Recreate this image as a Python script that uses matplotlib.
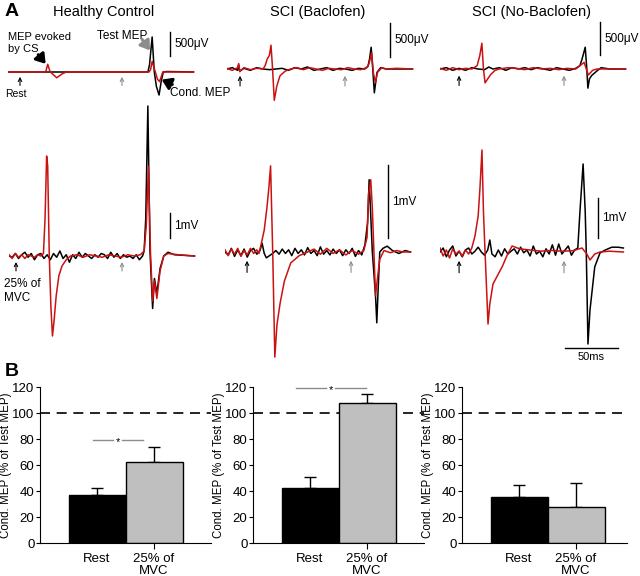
import matplotlib
matplotlib.use("Agg")
import matplotlib.pyplot as plt

plt.rcParams["font.family"] = ["Liberation Sans", "DejaVu Sans"]

W, H = 640.0, 576.0
PX_MS = 1.06  # pixels per ms in panel A
BLACK = "black"
RED = "#cc1111"
GRAY = "#8c8c8c"

# ---- panel A: EMG traces (time in ms, amplitude in mV) ----
# Healthy control, rest
hc_rest_black_t = [0, 132, 133.5, 136, 138, 140, 142.5, 144.5, 146.5, 150, 175]
hc_rest_black_v = [0, 0, 0.15, 0.73, 0, -0.3, -0.48, -0.2, 0, 0.01, 0]
hc_rest_red_t = [0, 35.5, 37.5, 39.5, 41, 46, 51, 55, 133, 134.5, 136, 139, 141, 143, 146, 175]
hc_rest_red_v = [0, 0, 0.16, 0.02, -0.02, -0.12, -0.04, 0, 0, 0.05, 0.22, 0, -0.15, -0.2, 0, 0]

# Healthy control, 25% MVC
hc_mvc_black_t = [0, 3, 6, 9, 12, 15, 18, 21, 24, 27, 30, 33, 36, 39, 42, 45, 48, 51, 54, 57, 60,
                  63, 66, 69, 72, 75, 78, 81, 84, 87, 90, 93, 96, 99, 102, 105, 108, 111, 114, 117,
                  120, 123, 126, 127.5, 129, 131, 133, 135.5, 137.2, 139.5, 142.5, 146, 150, 156, 175]
hc_mvc_black_v = [0, -0.05, 0.1, -0.1, 0.05, 0.15, -0.05, 0.1, -0.15, 0.05, 0.1, -0.1, 0.05, -0.15,
                  0.1, -0.05, 0.2, -0.1, 0.05, -0.25, 0.05, -0.1, 0.15, -0.05, 0.1, 0, -0.1, 0.05,
                  -0.05, 0.1, 0.05, -0.1, 0.15, -0.05, 0.1, -0.1, 0.05, -0.05, 0, -0.1, 0.05, -0.15,
                  0, 0.2, 1.5, 6.0, 0.2, -2.1, -0.9, -1.5, -0.5, 0, 0.15, 0.05, 0]
hc_mvc_red_t = [0, 3, 6, 9, 12, 15, 18, 21, 24, 27, 30, 32.5, 34, 35.5, 36.5, 38, 39.5, 41, 42.5,
                44.5, 47, 50, 54, 58, 64, 70, 76, 82, 88, 94, 100, 106, 112, 118, 124, 127.5,
                129.5, 131.5, 133.5, 135.5, 137.2, 139.5, 142.5, 146, 150, 160, 175]
hc_mvc_red_v = [0.05, -0.1, 0.1, -0.05, 0.05, -0.1, 0.05, 0, -0.05, 0.05, 0, 0.1, 1.5, 4.0, 3.6, 0,
                -2.0, -3.2, -2.6, -1.6, -0.8, -0.4, -0.15, 0, 0.05, -0.05, 0.05, 0, -0.05, 0.05, 0,
                -0.05, 0.05, 0, 0.05, 0.2, 1.2, 3.6, 0.1, -1.8, -1.0, -1.7, -0.6, 0, 0.1, 0.05, 0]

# SCI (Baclofen), rest
bac_rest_black_t = [0, 5, 10, 11, 12, 16, 22, 28, 34, 40, 46, 52, 58, 64, 70, 76, 82, 88, 94, 100,
                    106, 112, 118, 124, 130, 133, 134.5, 136, 137.5, 139, 141.5, 145, 150, 160, 175]
bac_rest_black_v = [0, 0.02, -0.02, 0.06, -0.03, 0.01, -0.02, 0.02, 0, -0.01, 0, 0.01, -0.02, 0.02,
                    0, 0.03, -0.02, 0, 0.02, -0.02, 0.01, 0, -0.02, 0.01, 0, 0.04, 0.15, 0.32, 0,
                    -0.35, -0.05, 0.02, 0, 0, 0]
bac_rest_red_t = [0, 5, 10, 11, 12, 16, 22, 28, 34, 36, 38, 40, 41.5, 43, 44.6, 47, 50, 55, 60, 66,
                  72, 78, 84, 90, 96, 102, 108, 114, 120, 126, 132, 134, 136.5, 138, 140, 142, 146,
                  150, 160, 175]
bac_rest_red_v = [0.01, -0.02, 0.02, 0.08, -0.04, 0.02, -0.01, 0.01, 0, 0.05, 0.15, 0.2, 0.35, 0,
                  -0.46, -0.25, -0.1, -0.03, 0, 0.02, -0.01, 0.02, 0, -0.02, 0.01, 0, -0.01, 0.02,
                  0, -0.01, 0.02, 0.08, 0.24, -0.05, -0.2, -0.05, 0.02, 0, 0.01, 0]

# SCI (Baclofen), 25% MVC
bac_mvc_black_t = [0, 3, 6, 9, 12, 15, 18, 21, 24, 27, 30, 33, 35, 37, 39, 42, 45, 48, 51, 54, 57,
                   60, 63, 66, 69, 72, 75, 78, 81, 84, 87, 90, 93, 96, 99, 102, 105, 108, 111, 114,
                   117, 120, 123, 126, 129, 132, 134.5, 136, 137.5, 139, 140.5, 142, 143.2, 144.5,
                   146, 149, 153, 158, 164, 170, 175]
bac_mvc_black_v = [0, -0.04, 0.05, -0.06, 0.03, -0.05, 0.04, -0.07, 0.02, 0.05, -0.03, 0.02, 0.12,
                   -0.02, -0.08, -0.05, -0.02, 0.02, -0.03, 0.04, -0.02, 0.03, -0.05, 0.05, -0.02,
                   0.03, -0.04, 0.06, -0.02, 0.02, -0.05, 0.07, -0.03, 0.02, -0.04, 0.04, -0.02,
                   0.03, -0.05, 0.03, -0.02, 0.05, -0.06, 0.02, -0.04, 0.1, 0.4, 0.99, 0.5, 0,
                   -0.3, -0.6, -0.97, -0.5, 0, 0.05, 0.08, 0.02, -0.02, 0.02, 0]
bac_mvc_red_t = [0, 3, 6, 9, 12, 15, 18, 21, 24, 27, 30, 32, 34, 37, 39.5, 41.5, 43, 45, 47, 49,
                 52, 56, 62, 70, 78, 84, 90, 96, 102, 108, 114, 120, 126, 131, 134, 135.5, 137.5,
                 139, 140.5, 142, 143.5, 146, 150, 156, 162, 168, 175]
bac_mvc_red_v = [0.03, -0.05, 0.04, -0.03, 0.05, -0.06, 0.02, -0.04, 0.05, -0.02, 0.03, -0.02, 0.1,
                 0.3, 0.6, 0.9, 1.18, 0, -1.44, -1.0, -0.7, -0.4, -0.15, -0.05, 0, 0.04, -0.03,
                 0.05, -0.02, 0.03, -0.04, 0.02, -0.03, 0.02, 0.2, 0.8, 0.99, 0.6, 0, -0.6, -0.4,
                 -0.1, 0.02, -0.01, 0.02, 0, 0]

# SCI (No-Baclofen), rest
nob_rest_black_t = [0, 6, 12, 18, 24, 30, 36, 42, 46, 50, 56, 62, 68, 74, 80, 86, 92, 98, 104, 110,
                    116, 122, 128, 132, 134, 137, 138.5, 139.5, 141, 143, 148, 152, 160, 175]
nob_rest_black_v = [0, 0.02, -0.02, 0.01, -0.02, 0.02, 0, -0.01, 0.03, 0, 0.02, -0.02, 0.02, 0,
                    0.02, -0.01, 0.02, 0, -0.02, 0.02, 0, -0.02, 0.01, 0.05, 0.15, 0.33, 0, -0.29,
                    -0.15, -0.1, -0.03, 0.02, 0, 0]
nob_rest_red_t = [0, 6, 12, 18, 24, 30, 35, 37.5, 39.5, 41, 42.5, 45, 48, 52, 56, 64, 72, 80, 88,
                  96, 104, 112, 120, 128, 136, 138, 140, 144, 148, 160, 175]
nob_rest_red_v = [0.01, -0.02, 0.02, -0.01, 0.01, 0, 0.05, 0.2, 0.39, 0, -0.21, -0.15, -0.08, -0.02,
                  0, 0.02, 0.01, -0.01, 0.02, 0, 0.01, -0.01, 0.01, 0, 0.1, 0, -0.09, -0.02, 0, 0, 0]

# SCI (No-Baclofen), 25% MVC
nob_mvc_black_t = [0, 3, 6, 9, 12, 15, 18, 21, 24, 27, 30, 33, 36, 39, 42, 45, 47, 49, 52, 55, 58,
                   61, 64, 67, 70, 73, 76, 79, 82, 85, 88, 91, 94, 97, 100, 103, 106, 109, 112,
                   115, 118, 121, 124, 127, 130, 132, 135, 137, 138, 139.6, 141.5, 146, 151, 156,
                   162, 168, 173]
nob_mvc_black_v = [0, 0.1, -0.12, 0.05, 0.15, -0.1, 0.02, -0.12, 0.05, 0.1, -0.05, 0.02, 0.12, 0,
                   -0.08, 0.05, 0.3, -0.05, -0.12, 0.05, -0.1, 0.08, -0.05, 0.02, 0.08, -0.05,
                   0.12, -0.02, 0.05, -0.1, 0.15, -0.05, 0.02, -0.12, 0.08, -0.05, 0.18, -0.08,
                   0.2, -0.05, 0.05, 0.15, -0.08, 0.05, 0.1, 1.0, 2.2, 1.0, 0, -2.3, -1.45, -0.37,
                   -0.02, 0.05, 0.12, 0.12, 0.1]
nob_mvc_red_t = [0, 3, 6, 9, 12, 15, 18, 21, 24, 27, 30, 33, 36, 37.7, 39.6, 41, 42.5, 45.3, 47,
                 50, 54, 59, 63, 68, 75, 85, 95, 105, 115, 125, 134, 138.5, 141.5, 146, 151, 160,
                 173]
nob_mvc_red_v = [0.1, -0.1, 0.05, -0.15, 0.08, -0.05, 0.02, -0.1, 0.05, -0.05, 0.1, 0.4, 0.9, 1.6,
                 2.55, 1.0, 0, -1.8, -1.3, -0.8, -0.6, -0.35, -0.1, 0.15, 0.08, 0.05, 0.02, 0.04,
                 0.02, 0.03, 0.1, -0.05, -0.2, -0.05, 0, 0.02, 0]

# ---- panel B: conditioned MEP (% of test MEP) ----
conditions = ["Rest", "25% of\nMVC"]
hc_mean = [37, 62.5]
hc_err = [5, 11.5]
bac_mean = [42, 108]
bac_err = [9, 7]
nob_mean = [35.5, 27.5]
nob_err = [9, 18.5]

fig = plt.figure(figsize=(6.4, 5.76), dpi=100)


def px_axes(x, y, w, h):
    # pixel box (top-left origin) -> figure axes
    return fig.add_axes([x / W, 1 - (y + h) / H, w / W, h / H])


def trace_axes(x0, ybase, ppmv, ytop, ybot, width=215):
    ax = px_axes(x0, ytop, width, ybot - ytop)
    ax.set_xlim(0, width / PX_MS)
    ax.set_ylim((ybase - ybot) / ppmv, (ybase - ytop) / ppmv)
    ax.axis("off")
    return ax


def draw_pair(ax, bt, bv, rt, rv):
    ax.plot(bt, bv, color=BLACK, lw=1.1, zorder=2)
    ax.plot(rt, rv, color=RED, lw=1.1, zorder=3)


def stim_arrows(ax, t1, t2, lo, hi):
    for t, c in [(t1, BLACK), (t2, GRAY)]:
        ax.annotate("", xy=(t, hi), xytext=(t, lo),
                    arrowprops=dict(arrowstyle="->,head_length=0.5,head_width=0.25", color=c,
                                    lw=0.8, mutation_scale=5, shrinkA=0, shrinkB=0))


def big_arrow(ax, head, tail, color):
    ax.annotate("", xy=head, xytext=tail,
                arrowprops=dict(arrowstyle="-|>,head_length=0.6,head_width=0.4", color=color,
                                lw=2.2, mutation_scale=9, shrinkA=0, shrinkB=0))


def vbar(ax, t, v0, v1, label):
    ax.plot([t, t], [v0, v1], color=BLACK, lw=1.0, clip_on=False)
    ax.text(t + 4, (v0 + v1) / 2, label, fontsize=8.5, va="center", ha="left")


# top row (rest)
ax = trace_axes(8, 72, 48, 15, 108)
draw_pair(ax, hc_rest_black_t, hc_rest_black_v, hc_rest_red_t, hc_rest_red_v)
stim_arrows(ax, 11.3, 107.5, -0.28, -0.1)
vbar(ax, 153, 0.33, 0.83, "500\u03bcV")
ax.text(-2.8, -0.45, "Rest", fontsize=7.5, va="center")
ax.text(0, 0.6, "MEP evoked\nby CS", fontsize=8, va="center", linespacing=1.25)
big_arrow(ax, (35.5, 0.17), (28.5, 0.36), BLACK)
ax.text(84, 0.74, "Test MEP", fontsize=8.5, va="center")
big_arrow(ax, (134, 0.45), (126.5, 0.68), GRAY)
ax.text(153, -0.44, "Cond. MEP", fontsize=8.5, va="center")
big_arrow(ax, (145, -0.16), (155, -0.26), BLACK)

ax = trace_axes(227, 69, 68, 15, 108)
draw_pair(ax, bac_rest_black_t, bac_rest_black_v, bac_rest_red_t, bac_rest_red_v)
stim_arrows(ax, 12.3, 111.3, -0.25, -0.1)
vbar(ax, 154, 0.18, 0.68, "500\u03bcV")

ax = trace_axes(440, 69, 66, 15, 108)
draw_pair(ax, nob_rest_black_t, nob_rest_black_v, nob_rest_red_t, nob_rest_red_v)
stim_arrows(ax, 18, 117, -0.25, -0.1)
vbar(ax, 151, 0.21, 0.71, "500\u03bcV")

# bottom row (25% MVC)
ax = trace_axes(9, 256, 25, 100, 370)
draw_pair(ax, hc_mvc_black_t, hc_mvc_black_v, hc_mvc_red_t, hc_mvc_red_v)
stim_arrows(ax, 6.6, 106.6, -0.6, -0.24)
vbar(ax, 152, 0.72, 1.72, "1mV")
ax.text(-4.5, -1.4, "25% of\nMVC", fontsize=8.5, va="center", linespacing=1.15)

ax = trace_axes(225, 252, 73, 100, 370)
draw_pair(ax, bac_mvc_black_t, bac_mvc_black_v, bac_mvc_red_t, bac_mvc_red_v)
stim_arrows(ax, 20.8, 118.9, -0.28, -0.12)
vbar(ax, 154, 0.19, 1.19, "1mV")

ax = trace_axes(440, 252, 40, 100, 370)
draw_pair(ax, nob_mvc_black_t, nob_mvc_black_v, nob_mvc_red_t, nob_mvc_red_v)
stim_arrows(ax, 18, 117, -0.52, -0.22)
vbar(ax, 149, 0.35, 1.35, "1mV")
ax.plot([118, 168], [-2.4, -2.4], color=BLACK, lw=1.0, clip_on=False)
ax.text(143, -2.62, "50ms", fontsize=8, ha="center", va="center")

fig.text(12 / W, 1 - 12 / H, "A", fontsize=14, fontweight="bold", va="center", ha="center")
fig.text(104 / W, 1 - 12 / H, "Healthy Control", fontsize=10.5, va="center", ha="center")
fig.text(318 / W, 1 - 12 / H, "SCI (Baclofen)", fontsize=10.5, va="center", ha="center")
fig.text(531 / W, 1 - 12 / H, "SCI (No-Baclofen)", fontsize=10.5, va="center", ha="center")
fig.text(12 / W, 1 - 372 / H, "B", fontsize=14, fontweight="bold", va="center", ha="center")

# ---- panel B bars ----
bar_panels = [
    (40, 2.0, hc_mean, hc_err, (-0.07, 0.8, 79)),
    (253, 2.0, bac_mean, bac_err, (-0.25, 0.98, 119)),
    (462, 1.9, nob_mean, nob_err, None),
]
for x_left, x_max, means, errs, sig in bar_panels:
    ax = px_axes(x_left, 387, 57 * (x_max + 1), 156)
    ax.bar([0, 1], means, width=1.0, color=["black", "#bfbfbf"], edgecolor="black",
           linewidth=1.0, zorder=2)
    ax.errorbar([0, 1], means, yerr=[[0, 0], errs], fmt="none", ecolor="black",
                elinewidth=1.0, capsize=4, capthick=1.0, zorder=1)
    ax.axhline(100, color="black", lw=1.2, ls=(0, (6, 4)), zorder=1)
    ax.set_xlim(-1.0, x_max)
    ax.set_ylim(0, 120)
    ax.set_yticks(range(0, 121, 20))
    ax.set_xticks([0, 1])
    ax.set_xticklabels(conditions, fontsize=9.5, linespacing=1.05)
    ax.xaxis.get_major_ticks()[0].tick1line.set_visible(False)
    ax.tick_params(axis="y", labelsize=9.5, length=3, direction="out", pad=1)
    ax.tick_params(axis="x", length=4, direction="out", pad=3)
    ax.spines["top"].set_visible(False)
    ax.spines["right"].set_visible(False)
    ax.set_ylabel("Cond. MEP (% of Test MEP)", fontsize=8.3, labelpad=0)
    if sig is not None:
        x0, x1, y = sig
        mid = (x0 + x1) / 2
        ax.plot([x0, mid - 0.08], [y, y], color=GRAY, lw=1.0, clip_on=False)
        ax.plot([mid + 0.08, x1], [y, y], color=GRAY, lw=1.0, clip_on=False)
        ax.text(mid, y - 1.5, "*", fontsize=8, ha="center", va="center")

fig.savefig("out.png", dpi=100)
